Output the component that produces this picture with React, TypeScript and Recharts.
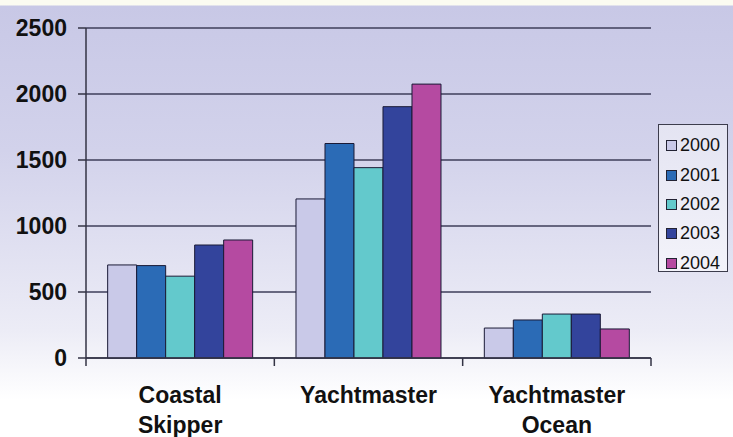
import * as React from "react";
import {
  BarChart,
  Bar,
  XAxis,
  YAxis,
  CartesianGrid,
  Legend,
} from "recharts";

const courses = ["Coastal Skipper", "Yachtmaster", "Yachtmaster Ocean"];
const courseLines = [["Coastal", "Skipper"], ["Yachtmaster"], ["Yachtmaster", "Ocean"]];
const years = ["2000", "2001", "2002", "2003", "2004"];
const values2000 = [705, 1205, 227];
const values2001 = [700, 1625, 288];
const values2002 = [620, 1442, 333];
const values2003 = [856, 1904, 333];
const values2004 = [894, 2075, 220];
const yTicks = [0, 500, 1000, 1500, 2000, 2500];

const colors = ["#c9c9e8", "#2b6bb6", "#63c9cc", "#33449c", "#b54aa1"];

const seriesValues = [values2000, values2001, values2002, values2003, values2004];
const data = courses.map((c, i) => {
  const row: any = { course: c };
  years.forEach((y, k) => (row["y" + y] = seriesValues[k][i]));
  return row;
});

const W = 733;
const H = 437;
const PLOT_LEFT = 86;
const PLOT_RIGHT = 651;
const PLOT_TOP = 28;
const PLOT_BOTTOM = 358;
const FONT = "'Liberation Sans', Arial, sans-serif";
const half = (PLOT_RIGHT - PLOT_LEFT) / courses.length / 2;

function CourseTick({ x, payload, index }: any) {
  const lines: string[] = courseLines[index] || [payload.value];
  return (
    <g>
      <line x1={x - half} y1={PLOT_BOTTOM} x2={x - half} y2={PLOT_BOTTOM + 8} stroke="#333344" strokeWidth={1.5} />
      {index === courses.length - 1 && (
        <line x1={x + half} y1={PLOT_BOTTOM} x2={x + half} y2={PLOT_BOTTOM + 8} stroke="#333344" strokeWidth={1.5} />
      )}
      {lines.map((l, i) => (
        <text
          key={l}
          x={x}
          y={PLOT_BOTTOM + 45 + i * 30}
          textAnchor="middle"
          fontFamily={FONT}
          fontWeight="bold"
          fontSize={23}
          fill="#111111"
        >
          {l}
        </text>
      ))}
    </g>
  );
}

function YearLegend({ payload }: any) {
  return (
    <div
      style={{
        width: 70,
        height: 148,
        boxSizing: "border-box",
        border: "1px solid #3c3c4c",
        background: "linear-gradient(to bottom, #e4e4f2, #f3f3fa)",
        paddingTop: 6,
        fontFamily: FONT,
      }}
    >
      {(payload || []).map((p: any) => (
        <div key={p.value} style={{ display: "flex", alignItems: "center", height: 29.4, paddingLeft: 7 }}>
          <span
            style={{
              display: "inline-block",
              width: 11,
              height: 11,
              boxSizing: "border-box",
              background: p.color,
              border: "1px solid #222233",
              marginRight: 3,
            }}
          />
          <span style={{ fontSize: 18, color: "#111111" }}>{p.value}</span>
        </div>
      ))}
    </div>
  );
}

export default function App() {
  return (
    <div
      style={{
        position: "absolute",
        left: 0,
        top: 0,
        width: W,
        height: H,
        background:
          "linear-gradient(to bottom, #fbfbf1 0px, #fbfbf1 5px, #c8c8e6 6px, #d2d2eb 150px, #ececf6 330px, #ffffff 400px)",
      }}
    >
      <BarChart
        width={W}
        height={H}
        data={data}
        margin={{ top: PLOT_TOP, right: W - PLOT_RIGHT, left: 0, bottom: 0 }}
        barCategoryGap="11.5%"
        barGap={0}
      >
        <CartesianGrid horizontal vertical={false} stroke="#3e3e5a" strokeWidth={1.5} />
        <XAxis
          dataKey="course"
          height={H - PLOT_BOTTOM}
          axisLine={{ stroke: "#333344", strokeWidth: 1.5 }}
          tickLine={false}
          tick={<CourseTick />}
          interval={0}
        />
        <YAxis
          width={PLOT_LEFT}
          domain={[0, 2500]}
          ticks={yTicks}
          axisLine={{ stroke: "#333344", strokeWidth: 1.5 }}
          tickLine={{ stroke: "#333344", strokeWidth: 1.5 }}
          tickSize={8}
          tickMargin={11}
          tick={{ fill: "#111111", fontSize: 23, fontWeight: "bold", fontFamily: FONT }}
        />
        <YAxis
          yAxisId="right"
          orientation="right"
          width={0}
          domain={[0, 2500]}
          tick={false}
          tickLine={false}
          axisLine={{ stroke: "#333344", strokeWidth: 1.5 }}
        />
        <Legend
          layout="horizontal"
          align="center"
          verticalAlign="middle"
          content={<YearLegend />}
          wrapperStyle={{ left: 658, top: 124, width: 70, height: 148 }}
        />
        {years.map((y, k) => (
          <Bar
            key={y}
            dataKey={"y" + y}
            name={y}
            fill={colors[k]}
            stroke="#1a1a36"
            strokeWidth={1}
            isAnimationActive={false}
          />
        ))}
      </BarChart>
    </div>
  );
}
